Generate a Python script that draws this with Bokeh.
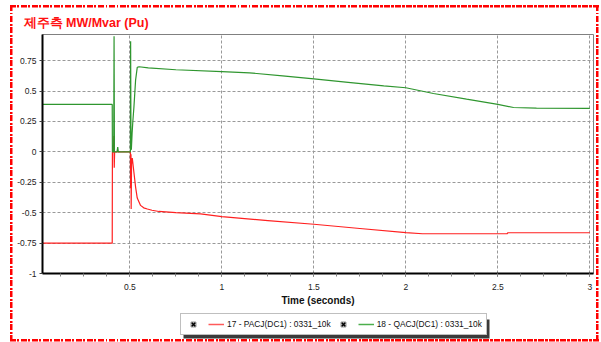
import math
from bokeh.plotting import figure
from bokeh.layouts import column
from bokeh.models import FixedTicker, Range1d, Legend, LegendItem
from bokeh.embed import file_html
from bokeh.resources import INLINE

# ---------------- data ----------------
title_text = "제주측 MW/Mvar (Pu)"
x_label = "Time (seconds)"
legend_labels = ["17 - PACJ(DC1) : 0331_10k", "18 - QACJ(DC1) : 0331_10k"]

x_ticks = [0.5, 1.0, 1.5, 2.0, 2.5, 3.0]
x_tick_labels = ["0.5", "1", "1.5", "2", "2.5", "3"]
y_ticks = [-1.0, -0.75, -0.5, -0.25, 0.0, 0.25, 0.5, 0.75]
y_tick_labels = ["-1", "-0.75", "-0.5", "-0.25", "0", "0.25", "0.5", "0.75"]

pacj_t = [0.0, 0.404, 0.405, 0.410, 0.413, 0.415, 0.417, 0.419, 0.503, 0.504,
          0.506, 0.507, 0.509, 0.513, 0.516, 0.522, 0.531, 0.540, 0.558, 0.575,
          0.595, 0.62, 0.658, 0.75, 0.884, 1.0, 1.25, 1.5, 1.75, 2.0, 2.09,
          2.55, 2.555, 3.0]
pacj_v = [-0.75, -0.75, 0.0, 0.0, 0.13, -0.13, 0.0, 0.0, 0.0, -0.30,
          -0.02, -0.47, -0.10, -0.05, -0.09, -0.17, -0.29, -0.38, -0.44, -0.46,
          -0.47, -0.48, -0.49, -0.50, -0.51, -0.533, -0.565, -0.595, -0.63, -0.664, -0.673,
          -0.673, -0.665, -0.665]

qacj_t = [0.0, 0.404, 0.405, 0.412, 0.414, 0.416, 0.418, 0.43, 0.434, 0.437,
          0.44, 0.503, 0.504, 0.506, 0.508, 0.512, 0.516, 0.522, 0.531, 0.54,
          0.55, 0.6, 0.75, 1.0, 1.15, 1.33, 1.5, 1.7, 1.88, 2.0, 2.15, 2.33,
          2.5, 2.585, 2.71, 3.0]
qacj_v = [0.39, 0.39, 0.0, 0.0, 0.95, 0.0, 0.0, 0.0, 0.04, 0.0,
          0.0, 0.0, 0.91, 0.02, 0.02, 0.15, 0.25, 0.37, 0.59, 0.695,
          0.70, 0.69, 0.675, 0.66, 0.65, 0.625, 0.60, 0.57, 0.543, 0.527, 0.48, 0.433,
          0.39, 0.365, 0.36, 0.357]

red = "#ff2020"
green = "#2f962f"
legend_red = "#ff5a5a"
legend_green = "#4caf4c"
FONT = "Liberation Sans"
BORDER_RED = "#ff0000"

# ---------------- main chart ----------------
p = figure(width=601, height=312, output_backend="svg", toolbar_location=None,
           x_range=Range1d(0.025, 3.02), y_range=Range1d(-1.0, 0.965),
           min_border_left=42, min_border_right=8, min_border_top=34,
           min_border_bottom=39)
p.background_fill_color = "white"
p.border_fill_color = None
p.outline_line_color = "#808080"
p.outline_line_width = 1

p.title.text = title_text
p.title.align = "left"
p.title.offset = -19
p.title.standoff = 9
p.title.text_color = "#ff1010"
p.title.text_font = FONT
p.title.text_font_style = "bold"
p.title.text_font_size = "12.5px"

p.line(pacj_t, pacj_v, line_color=red, line_width=1.2)
p.line(qacj_t, qacj_v, line_color=green, line_width=1.2)

xa = p.xaxis[0]
xa.ticker = FixedTicker(ticks=x_ticks,
                        minor_ticks=[0.125 * i for i in range(0, 25)])
xa.major_label_overrides = dict(zip(x_ticks, x_tick_labels))
xa.axis_line_color = "black"
xa.axis_line_width = 2
xa.major_tick_out = 3
xa.major_tick_in = 0
xa.minor_tick_out = 3
xa.minor_tick_in = 0
xa.major_tick_line_color = "#404040"
xa.minor_tick_line_color = "#808080"
xa.major_label_standoff = 7
xa.major_label_text_font = FONT
xa.major_label_text_font_size = "8.5px"
xa.major_label_text_color = "#222222"
xa.axis_label = x_label
xa.axis_label_text_font = FONT
xa.axis_label_text_font_style = "bold"
xa.axis_label_text_font_size = "10px"
xa.axis_label_text_color = "#111111"
xa.axis_label_standoff = 2

ya = p.yaxis[0]
ya.ticker = FixedTicker(ticks=y_ticks, minor_ticks=[])
ya.major_label_overrides = dict(zip(y_ticks, y_tick_labels))
ya.axis_line_color = "black"
ya.axis_line_width = 2
ya.major_tick_out = 3
ya.major_tick_in = 0
ya.minor_tick_out = 0
ya.minor_tick_in = 0
ya.major_tick_line_color = "#404040"
ya.major_label_standoff = 3
ya.major_label_text_font = FONT
ya.major_label_text_font_size = "8.5px"
ya.major_label_text_color = "#222222"

p.xgrid.ticker = FixedTicker(ticks=x_ticks)
p.ygrid.ticker = FixedTicker(ticks=y_ticks)
for g in (p.xgrid[0], p.ygrid[0]):
    g.grid_line_color = "#999999"
    g.grid_line_dash = "3 2"
    g.grid_line_width = 1

# ---------------- legend strip (frame aligned with the chart frame) ----------
lg = figure(width=601, height=30, output_backend="svg", toolbar_location=None,
            x_range=Range1d(42, 593), y_range=Range1d(0, 30),
            x_axis_type=None, y_axis_type=None,
            min_border_left=42, min_border_right=8, min_border_top=0,
            min_border_bottom=0)
lg.grid.visible = False
lg.outline_line_color = None
lg.background_fill_color = None
lg.border_fill_color = None

# drop shadow of the legend box (canvas x 183..489, y 319..338)
lg.quad(left=[183], right=[489], bottom=[4], top=[23], fill_color="#3a3a3a",
        line_color=None)

nan = [math.nan]
cb_box = lg.scatter(nan, nan, marker="square", size=9, fill_color="white",
                    line_color="#7a7a7a", line_width=1)
cb_mark = lg.scatter(nan, nan, marker="x", size=5, line_color="black",
                     line_width=1.6)
lp = lg.line(nan, nan, line_color=legend_red, line_width=1.5)
lq = lg.line(nan, nan, line_color=legend_green, line_width=1.5)

legend = Legend(items=[
    LegendItem(label="", renderers=[cb_box, cb_mark]),
    LegendItem(label=legend_labels[0], renderers=[lp]),
    LegendItem(label="", renderers=[cb_box, cb_mark]),
    LegendItem(label=legend_labels[1], renderers=[lq]),
], orientation="horizontal", location=(138, 7))
legend.label_text_font = FONT
legend.label_text_font_size = "8.4px"
legend.label_text_color = "#111111"
legend.label_width = 0
legend.label_height = 12
legend.glyph_width = 16
legend.glyph_height = 12
legend.label_standoff = 3
legend.spacing = 4
legend.padding = 4
legend.margin = 0
legend.border_line_color = "#808080"
legend.border_line_width = 1
legend.background_fill_color = "white"
legend.background_fill_alpha = 1
lg.add_layout(legend, "center")

# dash-dot red frame around the whole chart (CSS background of the layout)
h_dash = ("repeating-linear-gradient(to right, {c} 0px 6px, transparent 6px 7.5px, "
          "{c} 7.5px 9.5px, transparent 9.5px 11px)").format(c=BORDER_RED)
v_dash = ("repeating-linear-gradient(to bottom, {c} 0px 6px, transparent 6px 7.5px, "
          "{c} 7.5px 9.5px, transparent 9.5px 11px)").format(c=BORDER_RED)
frame_styles = {
    "background-color": "white",
    "background-image": ", ".join([h_dash, h_dash, v_dash, v_dash]),
    "background-position": "10px 4.5px, 10px 338.5px, 10px 4.5px, 596px 4.5px",
    "background-size": "589px 2.5px, 589px 2.5px, 2.5px 336px, 2.5px 336px",
    "background-repeat": "no-repeat",
}

layout = column(p, lg, spacing=0, width=601, height=342, styles=frame_styles)

open("out.html", "w").write(file_html(layout, INLINE))
